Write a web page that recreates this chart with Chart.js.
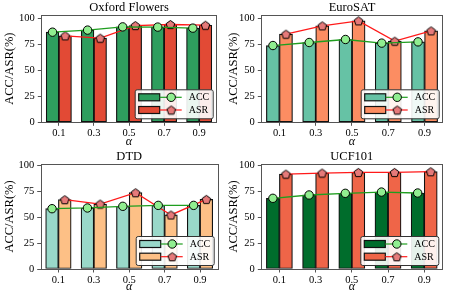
<!DOCTYPE html>
<html><head><meta charset="utf-8">
<script src="https://cdn.jsdelivr.net/npm/chart.js@4.4.0/dist/chart.umd.min.js"></script>
<style>
html,body{margin:0;padding:0;background:#fff;}
#wrap{position:relative;width:449px;height:299px;overflow:hidden;}
canvas{position:absolute;}
</style></head>
<body><div id="wrap">
<canvas id="c0" width="224" height="150" style="left:0;top:0;width:224px;height:150px"></canvas>
<canvas id="c1" width="225" height="150" style="left:224px;top:0;width:225px;height:150px"></canvas>
<canvas id="c2" width="224" height="149" style="left:0;top:150px;width:224px;height:149px"></canvas>
<canvas id="c3" width="225" height="149" style="left:224px;top:150px;width:225px;height:149px"></canvas>
</div>
<script>
// ---- data ----
const alphaLabels = ['0.1', '0.3', '0.5', '0.7', '0.9'];
const yTickValues = [0, 25, 50, 75, 100];
const seriesNames = ['ACC', 'ASR'];
const panelTitles = ['Oxford Flowers', 'EuroSAT', 'DTD', 'UCF101'];
const oxfordAcc = [86.5, 88.5, 91.6, 91.4, 90.4];
const oxfordAsr = [83.0, 80.8, 92.9, 93.9, 93.2];
const eurosatAcc = [73.7, 76.6, 79.5, 76.0, 77.2];
const eurosatAsr = [84.6, 92.6, 97.4, 77.9, 87.8];
const dtdAcc = [58.0, 58.7, 60.3, 61.2, 61.2];
const dtdAsr = [66.7, 62.5, 73.4, 52.0, 67.0];
const ucfAcc = [68.0, 71.2, 72.8, 74.0, 73.1];
const ucfAsr = [91.3, 92.3, 92.9, 92.9, 93.6];

// ---- style ----
const SERIF = '"Liberation Serif", "DejaVu Serif", serif';
const panels = [
  {id:'c0', title:panelTitles[0], acc:oxfordAcc, asr:oxfordAsr, accColor:'#2e9e5e', asrColor:'#e24a35',
   yMax:103, pad:{left:41.3, right:7.3, top:15, bottom:27.7}, xTitlePad:1},
  {id:'c1', title:panelTitles[1], acc:eurosatAcc, asr:eurosatAsr, accColor:'#66c2a5', asrColor:'#fc8d62',
   yMax:103, pad:{left:37.3, right:5, top:15, bottom:27.7}, xTitlePad:1},
  {id:'c2', title:panelTitles[2], acc:dtdAcc, asr:dtdAsr, accColor:'#99d8c9', asrColor:'#fdc086',
   yMax:101, pad:{left:40.7, right:3.3, top:14, bottom:30}, xTitlePad:5},
  {id:'c3', title:panelTitles[3], acc:ucfAcc, asr:ucfAsr, accColor:'#006d2c', asrColor:'#ef6548',
   yMax:101, pad:{left:37.3, right:6.7, top:14, bottom:30}, xTitlePad:5},
];
const accLine = '#1f9e1f', asrLine = '#ff1a1a';
const accMarker = '#90ee90', asrMarker = '#e67a7a';
const barOffset = 0.18;   // half bar width in category units

function pentagon(size, fill){
  const c = document.createElement('canvas');
  c.width = size; c.height = size;
  const g = c.getContext('2d');
  const r = size/2 - 1, cx = size/2, cy = size/2 + 0.5;
  g.beginPath();
  for(let k=0;k<5;k++){
    const a = -Math.PI/2 + k*2*Math.PI/5;
    const x = cx + r*Math.cos(a), y = cy + r*Math.sin(a);
    k ? g.lineTo(x,y) : g.moveTo(x,y);
  }
  g.closePath();
  g.fillStyle = fill; g.fill();
  g.lineWidth = 1; g.strokeStyle = '#000'; g.stroke();
  return c;
}
const pentImg = pentagon(11, asrMarker);

const decor = {
  id:'decor',
  afterDraw(chart, args, opts){
    const ctx = chart.ctx, a = chart.chartArea;
    ctx.save();
    ctx.strokeStyle = '#555'; ctx.lineWidth = 1;
    ctx.strokeRect(Math.round(a.left)+0.5, Math.round(a.top)+0.5, Math.round(a.right-a.left), Math.round(a.bottom-a.top));
    ctx.fillStyle = '#000';
    ctx.font = 'normal 400 12.5px ' + SERIF;
    ctx.textAlign = 'center'; ctx.textBaseline = 'alphabetic';
    ctx.fillText(opts.title, (a.left+a.right)/2, a.top - 4);
    const w = 78, h = 29;
    const lx = a.right - 4 - w, ly = a.bottom - 4 - h;
    ctx.fillStyle = 'rgba(255,255,255,0.9)';
    ctx.beginPath(); ctx.roundRect(lx+0.5, ly+0.5, w, h, 2); ctx.fill();
    ctx.strokeStyle = '#333'; ctx.lineWidth = 1; ctx.stroke();
    const rows = [
      {name:seriesNames[0], bar:opts.accColor, line:accLine, marker:'circle'},
      {name:seriesNames[1], bar:opts.asrColor, line:asrLine, marker:'pent'}
    ];
    rows.forEach((r, i) => {
      const cy = ly + 8 + i*12.7;
      ctx.fillStyle = r.bar; ctx.strokeStyle = '#111'; ctx.lineWidth = 1.2;
      ctx.fillRect(lx+4, cy-3.5, 21, 7); ctx.strokeRect(lx+4, cy-3.5, 21, 7);
      ctx.strokeStyle = r.line; ctx.lineWidth = 1.2;
      ctx.beginPath(); ctx.moveTo(lx+25, cy); ctx.lineTo(lx+47, cy); ctx.stroke();
      if (r.marker === 'circle'){
        ctx.beginPath(); ctx.arc(lx+36.5, cy, 4.2, 0, Math.PI*2);
        ctx.fillStyle = accMarker; ctx.fill(); ctx.strokeStyle = '#000'; ctx.lineWidth = 1; ctx.stroke();
      } else {
        ctx.drawImage(pentImg, lx+36.5-5.5, cy-5.5);
      }
      ctx.fillStyle = '#000'; ctx.font = '10px ' + SERIF;
      ctx.textAlign = 'left'; ctx.textBaseline = 'middle';
      ctx.fillText(r.name, lx+54, cy+0.5);
    });
    ctx.restore();
  }
};

panels.forEach(p => {
  const cv = document.getElementById(p.id);
  const accPts = p.acc.map((v,i)=>({x:i-barOffset, y:v}));
  const asrPts = p.asr.map((v,i)=>({x:i+barOffset, y:v}));
  new Chart(cv, {
    type:'bar',
    data: {
      datasets: [
        {label:seriesNames[0], data:accPts, backgroundColor:p.accColor, borderColor:'#111',
         borderWidth:1.2, borderSkipped:false, order:2, grouped:false,
         categoryPercentage:1, barPercentage:1},
        {label:seriesNames[1], data:asrPts, backgroundColor:p.asrColor, borderColor:'#111',
         borderWidth:1.2, borderSkipped:false, order:2, grouped:false,
         categoryPercentage:1, barPercentage:1},
        {type:'line', label:seriesNames[0], data:accPts,
         borderColor:accLine, borderWidth:1.3, pointRadius:4.2, pointBackgroundColor:accMarker,
         pointBorderColor:'#000', pointBorderWidth:1, tension:0, order:1, clip:false},
        {type:'line', label:seriesNames[1], data:asrPts,
         borderColor:asrLine, borderWidth:1.3, pointStyle:pentImg, pointRadius:5,
         tension:0, order:1, clip:false},
      ]
    },
    options: {
      responsive:false, animation:false, devicePixelRatio:1,
      layout:{padding:{left:0, right:p.pad.right, top:p.pad.top, bottom:0}},
      plugins:{legend:{display:false}, tooltip:{enabled:false}, title:{display:false},
        decor:{title:p.title, accColor:p.accColor, asrColor:p.asrColor}},
      scales:{
        x:{type:'linear', offset:false, min:-0.5, max:alphaLabels.length-0.5,
           afterBuildTicks: s => { s.ticks = alphaLabels.map((l,i)=>({value:i})); },
           grid:{display:true, offset:false, drawOnChartArea:false, drawTicks:true, tickLength:3.5, color:'#555'},
           border:{display:false},
           ticks:{color:'#000', font:{family:SERIF, size:10.5}, padding:1.5, maxRotation:0,
                  callback: v => alphaLabels[v]},
           title:{display:true, text:'α', color:'#000', font:{family:SERIF, size:12, style:'italic'}, padding:{top:0,bottom:p.xTitlePad}},
           afterFit: s => { s.height = p.pad.bottom; }},
        y:{type:'linear', min:0, max:p.yMax,
           afterBuildTicks: s => { s.ticks = yTickValues.map(v=>({value:v})); },
           grid:{display:true, drawOnChartArea:false, drawTicks:true, tickLength:3.5, color:'#555'},
           border:{display:false},
           ticks:{color:'#000', font:{family:SERIF, size:10.5}, padding:3},
           title:{display:true, text:'ACC/ASR(%)', color:'#000', font:{family:SERIF, size:12.5}, padding:{top:2,bottom:0}},
           afterFit: s => { s.width = p.pad.left; }}
      }
    },
    plugins:[decor]
  });
});
</script>
</body></html>
